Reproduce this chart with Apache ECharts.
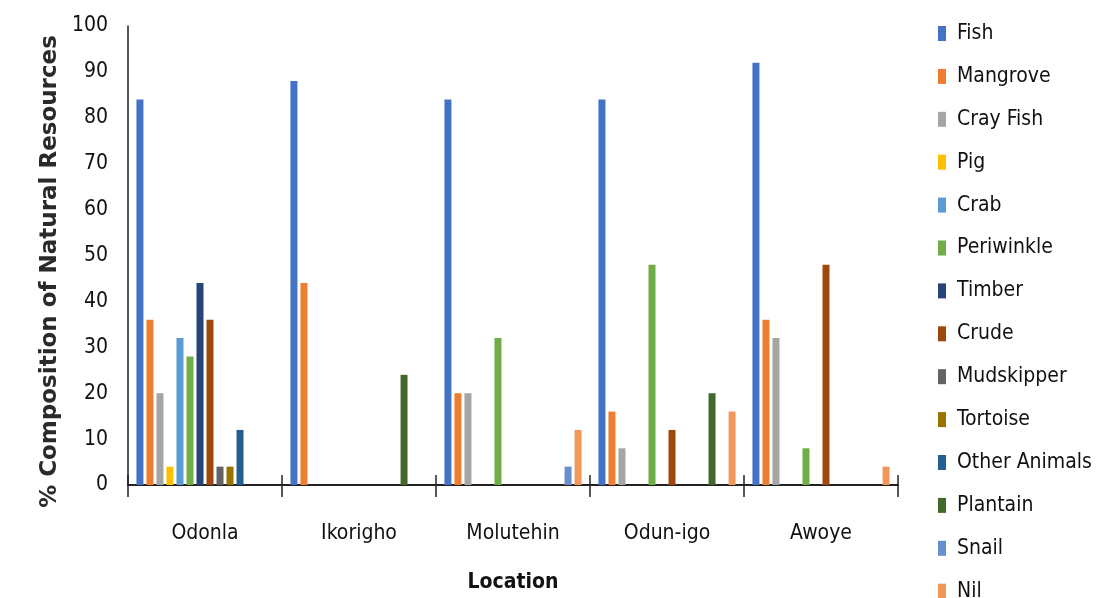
<!DOCTYPE html>
<html>
<head>
<meta charset="utf-8">
<script src="https://cdn.jsdelivr.net/npm/echarts@6/dist/echarts.min.js"></script>
<style>html,body{margin:0;padding:0;background:#fff}#c{width:1097px;height:598px}</style>
</head>
<body>
<div id="c"></div>
<script>
const locations = ['Odonla', 'Ikorigho', 'Molutehin', 'Odun-igo', 'Awoye'];
const yTicks = [0, 10, 20, 30, 40, 50, 60, 70, 80, 90, 100];
const seriesNames = ['Fish', 'Mangrove', 'Cray Fish', 'Pig', 'Crab', 'Periwinkle', 'Timber', 'Crude', 'Mudskipper', 'Tortoise', 'Other Animals', 'Plantain', 'Snail', 'Nil'];
const seriesColors = ['#4472C4', '#ED7D31', '#A5A5A5', '#FFC000', '#5B9BD5', '#70AD47', '#264478', '#9E480E', '#636363', '#997300', '#255E91', '#43682B', '#698ED0', '#F1975A'];
// values per series across locations [Odonla, Ikorigho, Molutehin, Odun-igo, Awoye]
const fish = [84, 88, 84, 84, 92];
const mangrove = [36, 44, 20, 16, 36];
const crayFish = [20, 0, 20, 8, 32];
const pig = [4, 0, 0, 0, 0];
const crab = [32, 0, 0, 0, 0];
const periwinkle = [28, 0, 32, 48, 8];
const timber = [44, 0, 0, 0, 0];
const crude = [36, 0, 0, 12, 48];
const mudskipper = [4, 0, 0, 0, 0];
const tortoise = [4, 0, 0, 0, 0];
const otherAnimals = [12, 0, 0, 0, 0];
const plantain = [0, 24, 0, 20, 0];
const snail = [0, 0, 4, 0, 0];
const nil = [0, 0, 12, 16, 4];
const seriesValues = [fish, mangrove, crayFish, pig, crab, periwinkle, timber, crude, mudskipper, tortoise, otherAnimals, plantain, snail, nil];

const narrow = "'DejaVu Sans Condensed', sans-serif";
const chart = echarts.init(document.getElementById('c'));
chart.setOption({
  animation: false,
  backgroundColor: '#fff',
  color: seriesColors,
  grid: { left: 128, right: 199, top: 26, bottom: 108, containLabel: false },
  legend: {
    orient: 'vertical', left: 938, top: 23, height: 700, padding: 0,
    itemWidth: 8, itemHeight: 15, itemGap: 21.9,
    icon: 'rect',
    textStyle: { fontFamily: narrow, fontSize: 21, color: '#111', padding: [0, 0, 0, 6] },
    data: seriesNames
  },
  xAxis: [{
    type: 'category', data: locations,
    name: 'Location', nameLocation: 'middle', nameGap: 87,
    nameTextStyle: { fontFamily: narrow, fontSize: 21, fontWeight: 'bold', color: '#111' },
    axisLine: { lineStyle: { color: '#222', width: 2 } },
    axisTick: { show: true, length: 12, lineStyle: { color: '#222', width: 1.5 } },
    axisLabel: { fontFamily: narrow, fontSize: 21, color: '#111', margin: 38 }
  }, {
    type: 'category', data: locations, position: 'bottom',
    axisLine: { show: false },
    axisTick: { show: true, inside: true, length: 10, lineStyle: { color: '#222', width: 1.5 } },
    axisLabel: { show: false }
  }],
  yAxis: {
    type: 'value', min: yTicks[0], max: yTicks[yTicks.length - 1], interval: 10,
    name: '% Composition of Natural Resources', nameLocation: 'middle', nameGap: 64,
    nameTextStyle: { fontFamily: 'DejaVu Sans', fontSize: 23, fontWeight: 'bold', color: '#2a2a2a', padding: [0, 32, 0, 0] },
    axisLine: { show: true, lineStyle: { color: '#222', width: 1.5 } },
    axisTick: { show: false },
    splitLine: { show: false },
    axisLabel: { fontFamily: narrow, fontSize: 21, color: '#111', margin: 20 }
  },
  series: seriesNames.map((n, i) => ({
    name: n, type: 'bar', xAxisIndex: 0,
    data: seriesValues[i],
    barWidth: 7, barGap: '43%', barCategoryGap: '11%',
    itemStyle: { color: seriesColors[i] }
  }))
});
</script>
</body>
</html>
